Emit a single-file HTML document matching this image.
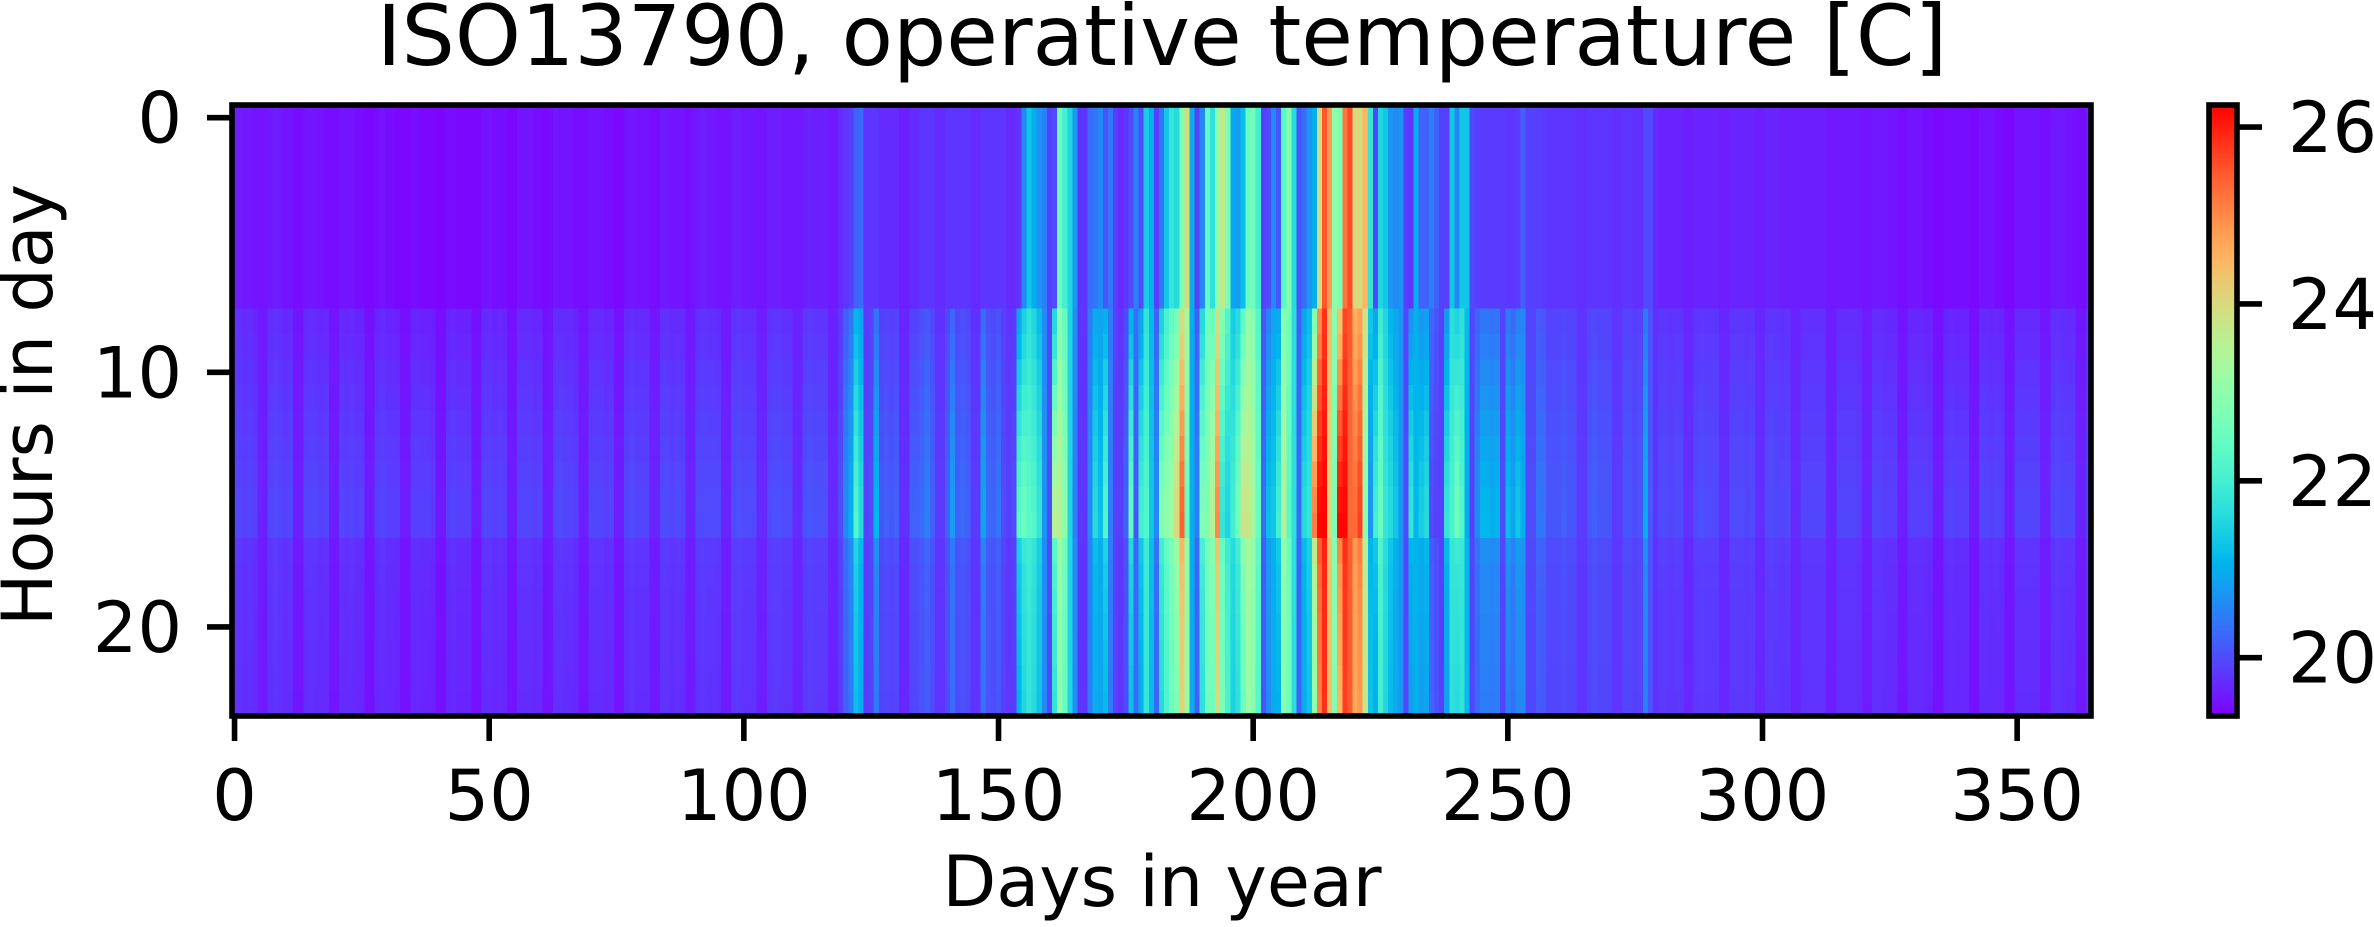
<!DOCTYPE html>
<html><head><meta charset="utf-8">
<style>
html,body{margin:0;padding:0;background:#fff;}
svg{display:block;font-family:"DejaVu Sans","Liberation Sans",sans-serif;}
</style></head>
<body>
<svg id="chart" width="2374" height="927" viewBox="0 0 2374 927" xmlns="http://www.w3.org/2000/svg">
<g id="cells" shape-rendering="crispEdges"></g>
<defs><linearGradient id="cbgrad" x1="0" y1="1" x2="0" y2="0"></linearGradient></defs>
<rect x="232" y="105" width="1859" height="611" fill="none" stroke="#000" stroke-width="5.6"/>
<g id="xticks"></g>
<g id="yticks"></g>
<text x="1162" y="65" font-size="84" text-anchor="middle">ISO13790, operative temperature [C]</text>
<text x="1162" y="906" font-size="70" text-anchor="middle">Days in year</text>
<text transform="translate(52,405) rotate(-90)" font-size="70" text-anchor="middle">Hours in day</text>
<rect x="2209" y="105" width="28" height="611" fill="url(#cbgrad)" stroke="#000" stroke-width="5.6"/>
<g id="cbticks"></g>
</svg>
<script>
const hourShape = [0,0,0,0,0,0,0,0,0.45,0.52,0.62,0.7,0.78,0.85,0.92,0.97,1,0.65,0.6,0.58,0.56,0.54,0.52,0.5];
const nightTemp = [
19.6,19.6,19.55,19.55,19.5,19.5,19.5,
19.55,19.6,19.55,19.5,19.5,19.45,19.45,
19.5,19.55,19.5,19.5,19.45,19.45,19.45,
19.5,19.5,19.5,19.45,19.45,19.4,19.4,
19.45,19.5,19.45,19.45,19.4,19.4,19.4,
19.45,19.45,19.4,19.4,19.4,19.38,19.38,
19.45,19.45,19.4,19.4,19.4,19.4,19.4,
19.5,19.5,19.45,19.45,19.45,19.4,19.4,
19.5,19.5,19.5,19.45,19.45,19.4,19.45,
19.55,19.5,19.5,19.5,19.45,19.45,19.45,
19.5,19.5,19.5,19.45,19.45,19.4,19.4,
19.5,19.55,19.5,19.5,19.5,19.45,19.45,
19.55,19.55,19.5,19.5,19.5,19.45,19.5,
19.55,19.6,19.55,19.55,19.5,19.5,19.5,
19.6,19.6,19.55,19.55,19.55,19.5,19.5,
19.6,19.6,19.6,19.55,19.55,19.55,19.55,
19.6,19.65,19.6,19.6,19.6,19.55,19.55,
19.7,19.8,19.9,20.2,20.3,19.8,19.8,
19.8,19.7,19.7,19.7,19.7,19.6,19.6,
19.7,19.7,19.8,19.8,19.8,19.7,19.7,
19.8,19.8,19.8,19.8,19.8,19.7,19.7,
19.8,19.8,19.8,19.8,19.8,19.7,19.7,
19.8,20.6,21.3,21.0,20.7,20.5,19.9,
20.0,22.5,22.0,21.5,20.8,19.8,19.8,
20.3,20.4,20.6,20.1,20.4,19.9,19.7,
19.8,20.0,20.5,20.0,21.4,21.0,19.9,
20.4,21.3,21.8,21.6,22.8,24.0,21.0,
19.9,20.6,22.4,21.7,23.0,23.7,22.7,
20.9,20.8,21.2,22.5,22.6,22.0,19.9,
20.0,20.6,20.1,22.3,22.9,21.6,20.1,
20.3,20.7,21.0,24.0,25.5,24.8,23.0,
22.8,25.2,25.6,24.0,24.0,24.5,21.8,
20.0,21.5,21.3,20.7,20.6,20.7,19.9,
19.8,21.0,20.2,20.2,20.5,20.2,19.9,
19.9,21.3,20.6,21.3,21.3,20.0,19.9,
19.85,19.85,19.85,19.85,19.85,19.8,19.8,
19.85,20.2,19.9,19.9,19.9,19.85,19.8,
19.8,19.8,19.8,19.8,19.8,19.75,19.75,
19.8,19.8,19.8,19.8,19.8,19.75,19.75,
19.8,19.8,19.75,19.75,20.0,20.0,19.7,
19.65,19.65,19.65,19.65,19.65,19.6,19.6,
19.65,19.65,19.65,19.65,19.65,19.6,19.6,
19.65,19.65,19.65,19.65,19.65,19.6,19.6,
19.65,19.65,19.65,19.6,19.6,19.6,19.6,
19.6,19.6,19.6,19.6,19.6,19.55,19.55,
19.55,19.55,19.55,19.55,19.55,19.5,19.5,
19.55,19.55,19.55,19.5,19.5,19.45,19.45,
19.5,19.5,19.5,19.45,19.45,19.4,19.4,
19.45,19.45,19.45,19.45,19.45,19.4,19.4,
19.5,19.5,19.5,19.45,19.45,19.4,19.4,
19.5,19.5,19.5,19.5,19.5,19.45,19.45,
19.55,19.55,19.55,19.5,19.5,19.45,19.45,
19.6
];
const peakTemp = [
19.95,19.95,19.9,19.95,19.9,19.65,19.6,
19.95,20.0,19.95,19.9,19.95,19.6,19.6,
19.95,19.95,19.95,19.9,19.95,19.6,19.6,
19.95,19.9,19.95,19.9,19.9,19.58,19.58,
19.9,19.95,19.9,19.9,19.9,19.58,19.58,
19.9,19.9,19.9,19.9,19.85,19.55,19.55,
19.9,19.95,19.9,19.9,19.9,19.58,19.58,
19.95,19.95,19.9,19.95,19.9,19.6,19.6,
19.95,19.95,19.95,19.9,19.95,19.6,19.6,
19.95,20.0,19.95,19.95,19.9,19.6,19.6,
19.95,19.95,19.95,19.9,19.95,19.6,19.6,
19.95,20.0,19.95,19.95,19.95,19.65,19.65,
20.0,20.0,19.95,20.0,19.95,19.65,19.65,
20.0,20.0,20.0,20.0,20.0,19.65,19.65,
20.0,20.05,20.0,20.0,20.0,19.7,19.7,
20.0,20.05,20.05,20.0,20.0,19.7,19.7,
20.05,20.1,20.05,20.05,20.05,19.7,19.7,
20.0,20.6,21.0,22.2,21.6,19.9,20.0,
21.1,20.1,20.2,20.1,20.2,19.75,19.75,
20.2,20.2,20.3,20.5,20.2,19.85,19.85,
20.2,20.8,20.2,20.3,20.2,19.85,19.85,
20.9,20.3,20.2,20.4,20.0,19.9,20.0,
22.3,22.5,22.3,22.2,21.8,20.7,20.0,
23.5,23.6,23.0,21.5,20.5,19.8,19.8,
20.6,21.6,21.2,22.2,20.5,19.9,19.9,
20.2,22.4,20.1,22.0,22.2,21.3,20.6,
22.8,23.0,23.2,24.0,25.4,22.5,21.0,
20.5,22.8,22.8,23.5,25.0,21.8,21.5,
22.0,22.6,23.8,23.8,23.3,22.5,20.3,
21.2,21.3,22.0,23.5,22.3,21.7,20.3,
21.6,21.8,25.1,26.2,26.2,24.0,22.8,
26.2,26.2,25.3,25.3,25.7,23.0,20.7,
22.0,22.5,21.8,21.6,21.3,20.7,20.0,
21.8,21.1,21.4,21.6,20.0,19.9,19.9,
21.8,22.1,22.6,22.2,21.0,19.9,20.6,
21.1,21.1,21.0,21.1,20.0,21.2,20.9,
21.3,21.0,20.0,20.0,20.4,20.4,20.1,
20.1,20.1,20.2,20.1,20.1,19.85,19.85,
20.1,20.2,20.1,20.1,20.1,19.85,19.85,
20.1,20.1,20.0,20.1,21.0,20.1,19.8,
20.0,20.0,19.95,20.0,20.0,19.75,19.75,
20.0,20.05,20.0,20.0,20.0,19.75,19.75,
20.0,20.0,20.0,19.95,20.0,19.75,19.75,
20.0,20.0,19.95,19.95,20.0,19.7,19.7,
19.95,19.95,19.95,19.95,19.95,19.65,19.65,
19.95,19.95,19.95,19.95,19.9,19.65,19.65,
19.95,19.95,19.9,19.9,19.9,19.6,19.6,
19.9,19.9,19.9,19.9,19.85,19.58,19.58,
19.9,19.95,19.9,19.9,19.9,19.58,19.58,
19.95,19.95,19.9,19.95,19.9,19.6,19.6,
19.95,19.95,19.95,19.95,19.95,19.65,19.65,
19.95,20.0,19.95,19.95,19.95,19.65,19.65,
19.9
];
const xTickValues = [0,50,100,150,200,250,300,350];
const yTickValues = [0,10,20];
const cbTickValues = [20,22,24,26];
const colorMin = 19.34, colorMax = 26.25;

const NS = "http://www.w3.org/2000/svg";
const PX0 = 232, PX1 = 2091, PY0 = 105, PY1 = 716;
const nDays = nightTemp.length, nHours = hourShape.length;
function xScale(d){ return PX0 + (d + 0.5) / nDays * (PX1 - PX0); }
function yScale(h){ return PY0 + (h + 0.5) / nHours * (PY1 - PY0); }
function cbScale(v){ return PY1 - (v - colorMin) / (colorMax - colorMin) * (PY1 - PY0); }
function rainbow(t){
  t = Math.max(0, Math.min(1, t));
  const r = Math.min(1, Math.abs(2*t - 0.5));
  const g = Math.sin(Math.PI * t);
  const b = Math.cos(Math.PI * t / 2);
  return "rgb(" + Math.round(r*255) + "," + Math.round(g*255) + "," + Math.round(b*255) + ")";
}
function colorOf(v){ return rainbow((v - colorMin) / (colorMax - colorMin)); }

const cells = document.getElementById("cells");
const cw = (PX1 - PX0) / nDays, ch = (PY1 - PY0) / nHours;
for (let d = 0; d < nDays; d++) {
  for (let h = 0; h < nHours; h++) {
    const v = nightTemp[d] + (peakTemp[d] - nightTemp[d]) * hourShape[h];
    const r = document.createElementNS(NS, "rect");
    r.setAttribute("x", (xScale(d) - cw/2).toFixed(2));
    r.setAttribute("y", (yScale(h) - ch/2).toFixed(2));
    r.setAttribute("width", (cw + 0.6).toFixed(2));
    r.setAttribute("height", (ch + 0.6).toFixed(2));
    r.setAttribute("fill", colorOf(v));
    
    
    cells.appendChild(r);
  }
}

const xt = document.getElementById("xticks");
xTickValues.forEach(v => {
  const x = xScale(v);
  const l = document.createElementNS(NS, "line");
  l.setAttribute("x1", x); l.setAttribute("x2", x);
  l.setAttribute("y1", PY1); l.setAttribute("y2", PY1 + 25);
  l.setAttribute("stroke", "#000"); l.setAttribute("stroke-width", "5.6");
  
  
  xt.appendChild(l);
  const t = document.createElementNS(NS, "text");
  t.setAttribute("x", x); t.setAttribute("y", 820);
  t.setAttribute("font-size", "70"); t.setAttribute("text-anchor", "middle");
  t.textContent = v;
  
  
  xt.appendChild(t);
});

const yt = document.getElementById("yticks");
yTickValues.forEach(v => {
  const y = yScale(v);
  const l = document.createElementNS(NS, "line");
  l.setAttribute("x1", PX0 - 25); l.setAttribute("x2", PX0);
  l.setAttribute("y1", y); l.setAttribute("y2", y);
  l.setAttribute("stroke", "#000"); l.setAttribute("stroke-width", "5.6");
  
  
  yt.appendChild(l);
  const t = document.createElementNS(NS, "text");
  t.setAttribute("x", 182); t.setAttribute("y", y + 25);
  t.setAttribute("font-size", "70"); t.setAttribute("text-anchor", "end");
  t.textContent = v;
  
  
  yt.appendChild(t);
});

const grad = document.getElementById("cbgrad");
for (let i = 0; i <= 40; i++) {
  const s = document.createElementNS(NS, "stop");
  s.setAttribute("offset", (i/40*100) + "%");
  s.setAttribute("stop-color", rainbow(i/40));
  grad.appendChild(s);
}
const cbt = document.getElementById("cbticks");
cbTickValues.forEach(v => {
  const y = cbScale(v);
  const l = document.createElementNS(NS, "line");
  l.setAttribute("x1", 2237); l.setAttribute("x2", 2262);
  l.setAttribute("y1", y); l.setAttribute("y2", y);
  l.setAttribute("stroke", "#000"); l.setAttribute("stroke-width", "5.6");
  
  
  cbt.appendChild(l);
  const t = document.createElementNS(NS, "text");
  t.setAttribute("x", 2288); t.setAttribute("y", y + 25);
  t.setAttribute("font-size", "70");
  t.textContent = v;
  
  
  cbt.appendChild(t);
});
</script>
</body></html>
